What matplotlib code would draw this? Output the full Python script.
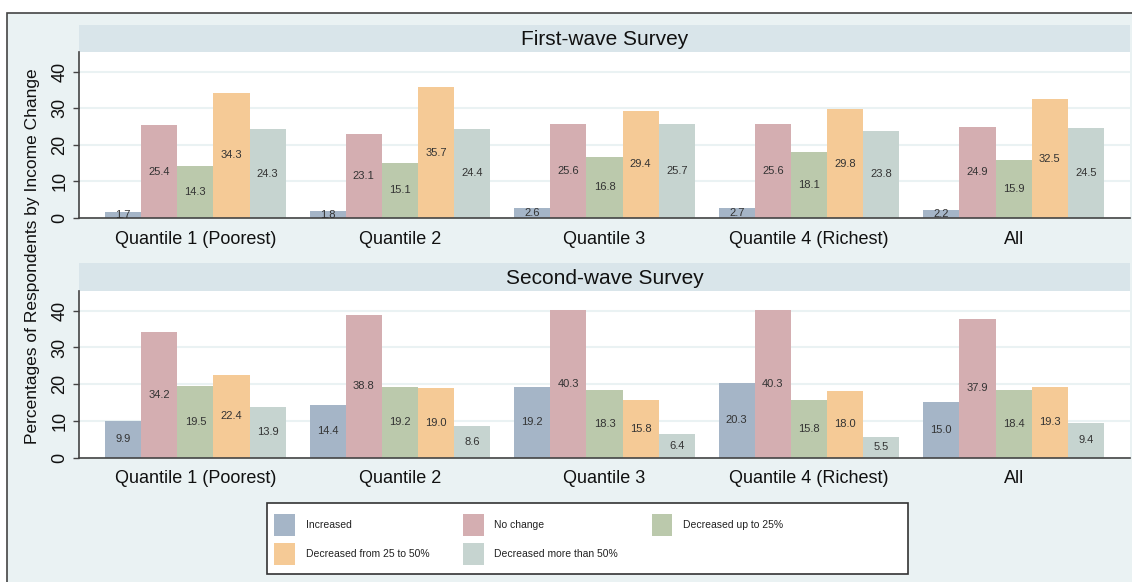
import numpy as np
import matplotlib
matplotlib.use("Agg")
import matplotlib.pyplot as plt
from matplotlib.patches import Patch, Rectangle

plt.rcParams['font.family'] = ['Liberation Sans', 'DejaVu Sans']

# data
groups = ["Quantile 1 (Poorest)", "Quantile 2", "Quantile 3", "Quantile 4 (Richest)", "All"]
series = ["Increased", "No change", "Decreased up to 25%",
          "Decreased from 25 to 50%", "Decreased more than 50%"]
colors = ["#A5B5C7", "#D4AEB1", "#BBC9AC", "#F5CA96", "#C6D4D0"]

w1_increased = [1.7, 1.8, 2.6, 2.7, 2.2]
w1_no_change = [25.4, 23.1, 25.6, 25.6, 24.9]
w1_dec_25 = [14.3, 15.1, 16.8, 18.1, 15.9]
w1_dec_25_50 = [34.3, 35.7, 29.4, 29.8, 32.5]
w1_dec_50 = [24.3, 24.4, 25.7, 23.8, 24.5]

w2_increased = [9.9, 14.4, 19.2, 20.3, 15.0]
w2_no_change = [34.2, 38.8, 40.3, 40.3, 37.9]
w2_dec_25 = [19.5, 19.2, 18.3, 15.8, 18.4]
w2_dec_25_50 = [22.4, 19.0, 15.8, 18.0, 19.3]
w2_dec_50 = [13.9, 8.6, 6.4, 5.5, 9.4]

titles = ["First-wave Survey", "Second-wave Survey"]
yticks = [0, 10, 20, 30, 40]

W, H = 1132, 582
BG = "#EAF2F3"
STRIP = "#D9E5EA"


def rect_px(left, top, right, bottom):
    return [left / W, 1 - bottom / H, (right - left) / W, (bottom - top) / H]


fig = plt.figure(figsize=(W / 100, H / 100), dpi=100)
fig.patch.set_facecolor("white")

# outer graph region with border on top/left
fig.patches.append(Rectangle((7 / W, -0.1), 1.2, 1 - 13 / H + 0.1,
                             transform=fig.transFigure, facecolor=BG,
                             edgecolor="#444444", lw=1.2, zorder=-5))


def draw_panel(ax_rect, strip_rect, title, data):
    sax = fig.add_axes(strip_rect)
    sax.set_facecolor(STRIP)
    sax.set_xticks([])
    sax.set_yticks([])
    for s in sax.spines.values():
        s.set_visible(False)
    sax.text(0.5, 0.45, title, ha="center", va="center", fontsize=15,
             color="#111111", transform=sax.transAxes)

    ax = fig.add_axes(ax_rect)
    ax.set_facecolor("white")
    x = np.arange(len(groups))
    w = 0.1768
    for j, vals in enumerate(data):
        bars = ax.bar(x + (j - 2) * w, vals, w, color=colors[j], zorder=2)
        ax.bar_label(bars, label_type="center", fmt="%.1f", fontsize=8,
                     color="#333333", zorder=3)
    ax.set_xlim(-0.569, 4.569)
    ax.set_ylim(0, 45.4)
    ax.set_yticks(yticks)
    ax.set_xticks(x)
    ax.set_xticklabels(groups)
    ax.yaxis.grid(True, color=BG, lw=1.5)
    ax.set_axisbelow(True)
    for side in ["top", "right"]:
        ax.spines[side].set_visible(False)
    for side in ["left", "bottom"]:
        ax.spines[side].set_color("#444444")
        ax.spines[side].set_linewidth(1.2)
    ax.tick_params(axis="x", length=0, labelsize=13, pad=9, labelcolor="#111111")
    ax.tick_params(axis="y", length=4.3, width=1, color="#444444",
                   labelsize=13, pad=3.5, labelcolor="#111111")
    plt.setp(ax.get_yticklabels(), rotation=90, va="center")
    return ax


draw_panel(rect_px(79, 52, 1130, 218), rect_px(79, 25, 1130, 52), titles[0],
           [w1_increased, w1_no_change, w1_dec_25, w1_dec_25_50, w1_dec_50])
draw_panel(rect_px(79, 291, 1130, 457.5), rect_px(79, 263, 1130, 291), titles[1],
           [w2_increased, w2_no_change, w2_dec_25, w2_dec_25_50, w2_dec_50])

fig.text(33 / W, 1 - 256 / H, "Percentages of Respondents by Income Change",
         rotation=90, ha="center", va="center", fontsize=12.5, color="#111111")

# legend box
fig.patches.append(Rectangle((267 / W, 1 - 574 / H), (908 - 267) / W, (574 - 503) / H,
                             transform=fig.transFigure, facecolor="white",
                             edgecolor="#333333", lw=1.2, zorder=2))
handles = [Patch(facecolor=c) for c in colors]
order = [0, 3, 1, 4, 2]
fig.legend([handles[i] for i in order], [series[i] for i in order], ncol=3,
           loc="upper left", bbox_to_anchor=(274 / W, 1 - 514 / H),
           frameon=False, borderpad=0, borderaxespad=0, fontsize=7.5,
           handlelength=2.0, handleheight=2.87, handletextpad=1.05,
           columnspacing=3.2, labelspacing=0.67, labelcolor="#222222")

fig.savefig("out.png", dpi=100)
